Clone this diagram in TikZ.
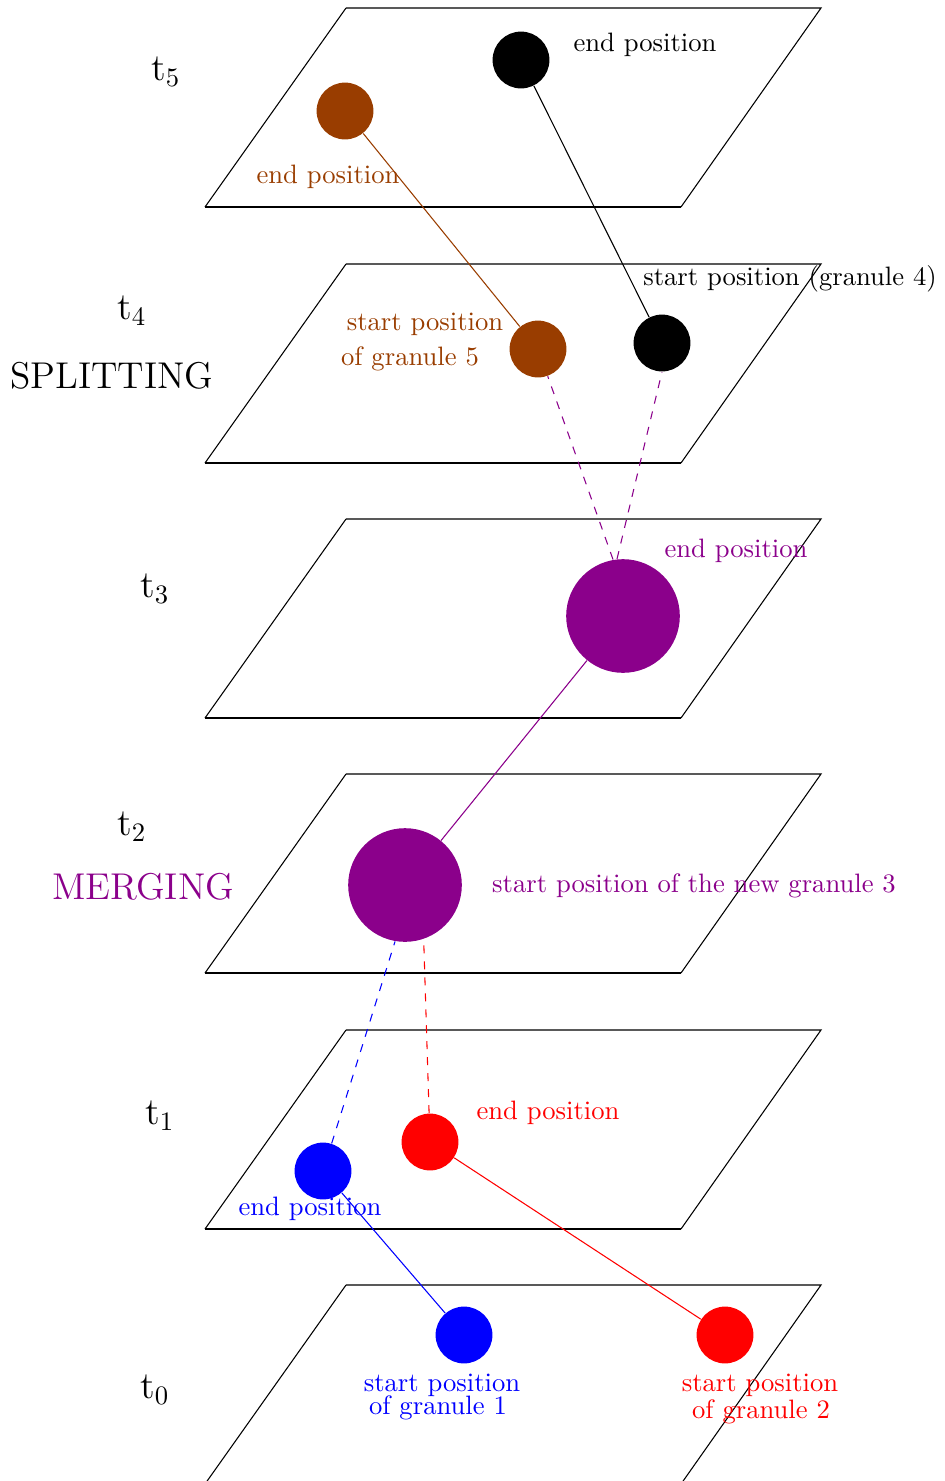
\documentclass[tikz,border=0pt]{standalone}
\usepackage{amsmath}
\usepackage{xcolor}
\usepackage{tikz}
\usetikzlibrary{positioning}

\definecolor{granbrown}{RGB}{153,61,0}
\definecolor{granpurple}{RGB}{139,0,139}

\begin{document}
\begin{tikzpicture}[x=0.0132cm,y=-0.0132cm,
	granule/.style={circle,inner sep=0pt,minimum size=0.75cm},
	biggranule/.style={circle,inner sep=0pt,minimum size=1.5cm},
	timelabel/.style={font=\Large},
	phase/.style={font=\fontsize{14}{16}\selectfont}]
	\useasboundingbox (0,0) rectangle (945,1481);
	% time planes
	\foreach \y in {8,264,519,774,1030,1285}{
		\draw (346,\y) -- (821,\y) -- (681,\y+199);
		\draw (205,\y+199) -- (681,\y+199);
		\draw (205,\y+199) -- (346,\y);
	}
	% time labels
	\node[timelabel] (t5) at (166,72) {t$_5$};
	\node[timelabel] (t4) at (132,311) {t$_4$};
	\node[timelabel] (t3) at (155,589) {t$_3$};
	\node[timelabel] (t2) at (132,827) {t$_2$};
	\node[timelabel] (t1) at (160,1116) {t$_1$};
	\node[timelabel] (t0) at (155,1390) {t$_0$};
	\node[phase] (split) at (112,376) {SPLITTING};
	\node[phase,granpurple] (merge) at (143,887) {MERGING};
	% granules
	\node[granule,fill=blue] (blueS) at (464,1335) {};
	\node[granule,fill=red] (redS) at (725,1335) {};
	\node[granule,fill=blue] (blueE) at (323,1171) {};
	\node[granule,fill=red] (redE) at (430,1142) {};
	\node[biggranule,fill=granpurple] (newS) at (405,885) {};
	\node[biggranule,fill=granpurple] (newE) at (623,616) {};
	\node[granule,fill=granbrown] (brownS) at (538,349) {};
	\node[granule,fill=black] (blackS) at (662,343) {};
	\node[granule,fill=granbrown] (brownE) at (345,111) {};
	\node[granule,fill=black] (blackE) at (521,60) {};
	% texts
	\node[blue] (blueStxt) at (442,1385) {start position};
	\node[blue] (blueStxtb) at (438,1408) {of granule 1};
	\node[red] (redStxt) at (760,1385) {start position};
	\node[red] (redStxtb) at (761,1412) {of granule 2};
	\node[blue] (blueEtxt) at (310,1209) {end position};
	\node[red] (redEtxt) at (548,1113) {end position};
	\node[granpurple] (newStxt) at (694,886) {start position of the new granule 3};
	\node[granpurple] (newEtxt) at (736,551) {end position};
	\node[granbrown] (brownStxt) at (425,324) {start position};
	\node[granbrown] (brownStxtb) at (410,359) {of granule 5};
	\node (blackStxt) at (790,279) {start position (granule 4)};
	\node[granbrown] (brownEtxt) at (328,177) {end position};
	\node (blackEtxt) at (645,45) {end position};
	% trajectories
	\draw[blue] (blueS) -- (blueE);
	\draw[red] (redS) -- (redE);
	\draw[blue,dashed] (blueE) -- (newS.-100);
	\draw[red,dashed] (redE) -- (newS.-71);
	\draw[granpurple] (newS) -- (newE);
	\draw[granpurple,dashed] (newE.100) -- (brownS);
	\draw[granpurple,dashed] (newE.96) -- (blackS.south);
	\draw[granbrown] (brownS) -- (brownE);
	\draw (blackS) -- (blackE);
\end{tikzpicture}
\end{document}
